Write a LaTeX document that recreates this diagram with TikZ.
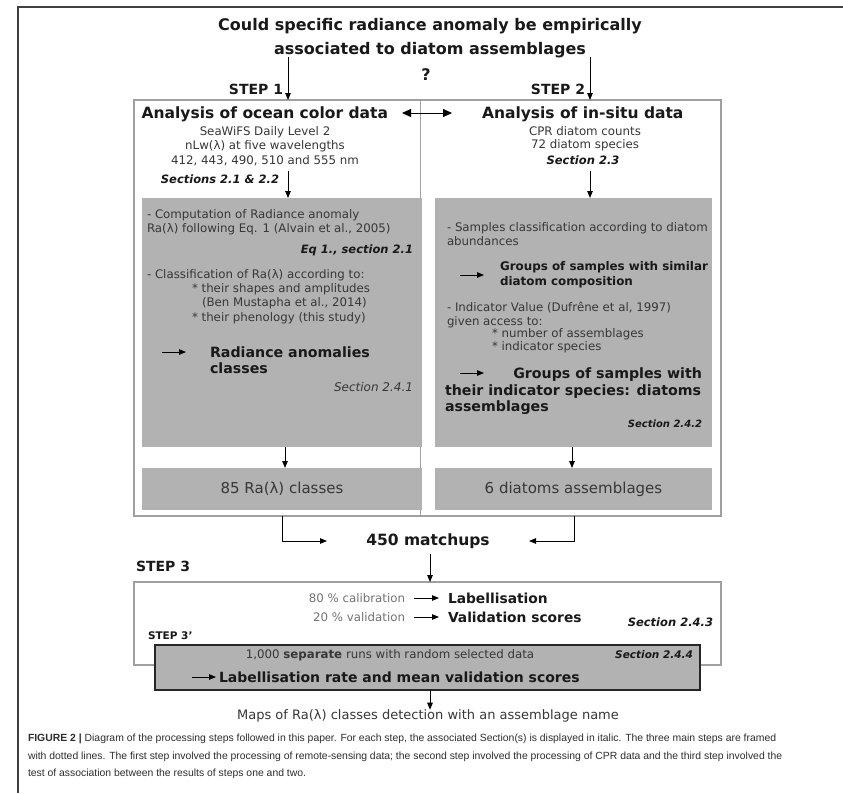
\documentclass[tikz,border=0pt]{standalone}
\usepackage{fontspec}
\setmainfont{DejaVu Sans}
\newfontfamily\capfont{Liberation Sans}
\usetikzlibrary{arrows.meta}
\definecolor{boxgray}{RGB}{178,178,178}
\definecolor{framegray}{RGB}{160,160,160}
\definecolor{txtdark}{RGB}{25,25,25}
\definecolor{txtgray}{RGB}{55,55,55}
\definecolor{capgray}{RGB}{45,45,45}
\newcommand{\fsz}[1]{\fontsize{#1pt}{#1pt}\selectfont}
\begin{document}
\begin{tikzpicture}[x=1pt,y=-1pt,
  txt/.style={inner sep=0pt,outer sep=0pt,text=txtdark},
  sm/.style={txt,font=\fsz{11.8},text=txtgray},
  bsec/.style={txt,font=\bfseries\itshape\fsz{11.5}},
  hd/.style={txt,font=\bfseries\fsz{15.5}},
  stepl/.style={txt,font=\bfseries\fsz{14}},
  res/.style={txt,font=\bfseries\fsz{14.2}},
  framebox/.style={draw=framegray,line width=1.1pt,inner sep=0pt,outer sep=0pt,anchor=north west},
  graybox/.style={fill=boxgray,draw=none,inner sep=0pt,outer sep=0pt,anchor=north west},
  arr/.style={-{Triangle[length=7pt,width=5.5pt]},line width=0.9pt,draw=black},
  captext/.style={inner sep=0pt,outer sep=0pt,anchor=west,text=capgray,font=\capfont\fsz{10.4}}
]
\useasboundingbox (0,0) rectangle (843,793);
\fill[white] (0,0) rectangle (843,793);
\draw[line width=1.3pt,black!75] (843,7) -- (18,7) -- (18,793);

% title
\node[txt,font=\bfseries\fsz{16}] (t1) at (430,26) {Could specific radiance anomaly be empirically};
\node[txt,font=\bfseries\fsz{16}] (t2) at (430,50) {associated to diatom assemblages};
\node[txt,font=\bfseries\fsz{16}] (q) at (426,75) {?};

% step 1/2 frame
\node[framebox,minimum width=587pt,minimum height=416pt] (box12) at (134,100) {};
\draw[draw=framegray,line width=1.6pt] (box12.north) ++(-7,0) coordinate (dv1) -- (dv1 |- box12.south);

\node[stepl,anchor=east] (s1) at (283,89) {STEP 1};
\node[stepl,anchor=east] (s2) at (585,89) {STEP 2};
\coordinate (a1s) at (288,57);
\coordinate (a2s) at (590,57);
\draw[arr] (a1s) -- (a1s |- box12.north);
\draw[arr] (a2s) -- (a2s |- box12.north);

\node[hd,anchor=east] (h1) at (388,114) {Analysis of ocean color data};
\node[hd,anchor=west] (h2) at (482,114) {Analysis of in-situ data};
\coordinate (dl) at (402,113);
\coordinate (dr) at (452,113);
\draw[{Triangle[length=9pt,width=8pt]}-{Triangle[length=9pt,width=8pt]},line width=0.9pt] (dl) -- (dr);

% left info
\node[sm] (l1) at (265,132) {SeaWiFS Daily Level 2};
\node[sm] (l2) at (265,146) {nLw(λ) at five wavelengths};
\node[sm] (l3) at (265,161) {412, 443, 490, 510 and 555 nm};
\node[bsec,anchor=east] (l4) at (279,179) {Sections 2.1 \& 2.2};

% right info
\node[sm] (r1i) at (585,131) {CPR diatom counts};
\node[sm] (r2i) at (585,145) {72 diatom species};
\node[bsec] (r3i) at (583,160) {Section 2.3};

% gray boxes
\node[graybox,minimum width=280pt,minimum height=249pt] (g1) at (142,198) {};
\node[graybox,minimum width=277pt,minimum height=249pt] (g2) at (435,198) {};
\coordinate (ia1) at (288,171);
\coordinate (ia2) at (590,171);
\draw[arr] (ia1) -- (ia1 |- g1.north);
\draw[arr] (ia2) -- (ia2 |- g2.north);

% left gray content
\node[sm,anchor=west] (c1) at (147,215) {- Computation of Radiance anomaly};
\node[sm,anchor=west] (c2) at (147,229) {Ra(λ) following Eq. 1 (Alvain et al., 2005)};
\node[bsec,anchor=east] (c3) at (413,250) {Eq 1., section 2.1};
\node[sm,anchor=west] (c4) at (147,275) {- Classification of Ra(λ) according to:};
\node[sm,anchor=west] (c5) at (192,289) {* their shapes and amplitudes};
\node[sm,anchor=west] (c6) at (202,303) {(Ben Mustapha et al., 2014)};
\node[sm,anchor=west] (c7) at (192,318) {* their phenology (this study)};
\coordinate (ra1) at (162,352);
\coordinate (ra2) at (186,352);
\draw[arr] (ra1) -- (ra2);
\node[res,anchor=west] (c8) at (210,352) {Radiance anomalies};
\node[res,anchor=west] (c9) at (210,368) {classes};
\node[txt,anchor=east,font=\itshape\fsz{12},text=txtgray] (c10) at (413,387) {Section 2.4.1};

% right gray content
\node[sm,anchor=west] (d1) at (447,228) {- Samples classification according to diatom};
\node[sm,anchor=west] (d2) at (447,241) {abundances};
\coordinate (rb1) at (460,275);
\coordinate (rb2) at (484,275);
\draw[arr] (rb1) -- (rb2);
\node[txt,anchor=west,font=\bfseries\fsz{11.9}] (d3) at (500,267) {Groups of samples with similar};
\node[txt,anchor=west,font=\bfseries\fsz{11.9}] (d4) at (500,282) {diatom composition};
\node[sm,anchor=west] (d5) at (447,308) {- Indicator Value (Dufrêne et al, 1997)};
\node[sm,anchor=west] (d6) at (447,322) {given access to:};
\node[sm,anchor=west] (d7) at (492,334) {* number of assemblages};
\node[sm,anchor=west] (d8) at (492,347) {* indicator species};
\coordinate (rc1) at (460,373);
\coordinate (rc2) at (484,373);
\draw[arr] (rc1) -- (rc2);
\node[res,anchor=east] (d9) at (702,375) {Groups of samples with};
\node[res,anchor=west] (d10) at (445,392) {their indicator species: diatoms};
\node[res,anchor=west] (d11) at (445,408) {assemblages};
\node[bsec,anchor=east,font=\bfseries\itshape\fsz{10}] (d12) at (702,424) {Section 2.4.2};

% result boxes
\node[graybox,minimum width=280pt,minimum height=42pt] (r1) at (142,468) {};
\node[graybox,minimum width=277pt,minimum height=42pt] (r2) at (435,468) {};
\node[txt,font=\fsz{15},text=txtgray] (r1t) at (r1.center) {85 Ra(λ) classes};
\node[txt,font=\fsz{15},text=txtgray] (r2t) at (r2.center) {6 diatoms assemblages};
\coordinate (ga1) at (285,447);
\coordinate (ga2) at (572,447);
\draw[arr] (ga1) -- (ga1 |- r1.north);
\draw[arr] (ga2) -- (ga2 |- r2.north);

% matchups
\node[txt,font=\bfseries\fsz{15.5}] (m) at (428,541) {450 matchups};
\coordinate (mla) at (282,516);
\coordinate (mra) at (574,516);
\coordinate (mlb) at (327,541);
\coordinate (mrb) at (529,541);
\draw[arr] (mla) |- (mlb);
\draw[arr] (mra) |- (mrb);

% step 3
\node[stepl,anchor=west] (s3) at (136,566) {STEP 3};
\node[framebox,minimum width=587pt,minimum height=83pt] (box3) at (134,582) {};
\coordinate (ma) at (430,554);
\draw[arr] (ma) -- (ma |- box3.north);

\node[sm,anchor=east,text=black!55] (e1) at (405,598) {80 \% calibration};
\coordinate (ea1) at (414,598);
\coordinate (ea2) at (439,598);
\draw[arr] (ea1) -- (ea2);
\node[txt,anchor=west,font=\bfseries\fsz{13.8}] (e2) at (448,598) {Labellisation};
\node[sm,anchor=east,text=black!55] (e3) at (405,617) {20 \% validation};
\coordinate (eb1) at (414,617);
\coordinate (eb2) at (439,617);
\draw[arr] (eb1) -- (eb2);
\node[txt,anchor=west,font=\bfseries\fsz{13.8}] (e4) at (448,617) {Validation scores};
\node[bsec,anchor=east] (e5) at (713,622) {Section 2.4.3};

% step 3'
\node[txt,anchor=west,font=\bfseries\fsz{10.5}] (s3b) at (148,636) {STEP 3'};
\node[graybox,draw=black!85,line width=1.3pt,minimum width=545pt,minimum height=45pt] (dk) at (155,645) {};
\node[sm] (f1) at (390,655) {1,000 \textbf{separate} runs with random selected data};
\node[bsec,anchor=east,font=\bfseries\itshape\fsz{10.5}] (f2) at (693,655) {Section 2.4.4};
\coordinate (fa1) at (192,677);
\coordinate (fa2) at (216,677);
\draw[arr] (fa1) -- (fa2);
\node[txt,anchor=west,font=\bfseries\fsz{14}] (f3) at (219,677) {Labellisation rate and mean validation scores};

\node[txt,font=\fsz{13},text=txtgray] (mp) at (428,716) {Maps of Ra(λ) classes detection with an assemblage name};
\draw[arr] (dk.south -| ma) -- (mp.north -| ma);

% caption
\node[captext] (cp1) at (28,739) {\textbf{FIGURE 2 |} Diagram of the processing steps followed in this paper. For each step, the associated Section(s) is displayed in italic. The three main steps are framed};
\node[captext] (cp2) at (28,757) {with dotted lines. The first step involved the processing of remote-sensing data; the second step involved the processing of CPR data and the third step involved the};
\node[captext] (cp3) at (28,774) {test of association between the results of steps one and two.};
\end{tikzpicture}
\end{document}
